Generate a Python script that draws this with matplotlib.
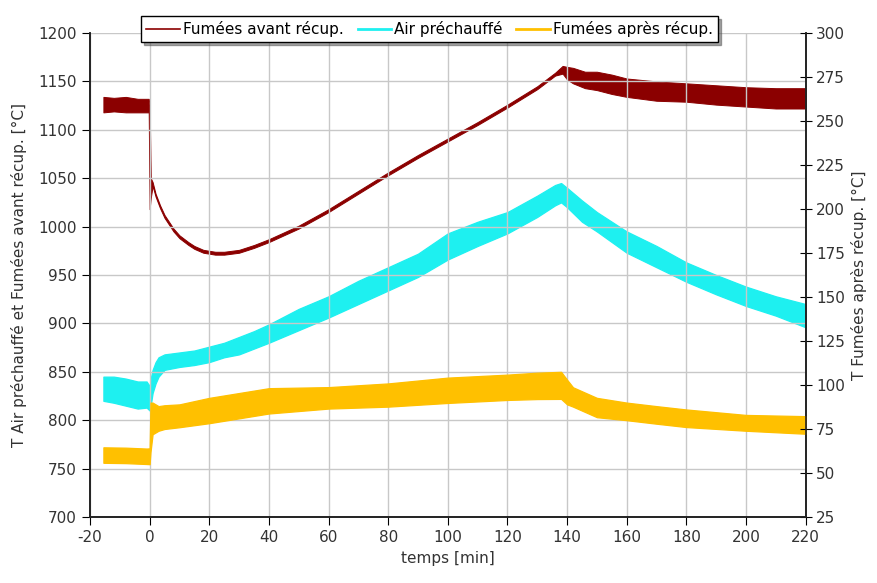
import matplotlib
matplotlib.use('Agg')
import numpy as np
import matplotlib.pyplot as plt
from matplotlib.lines import Line2D

plt.rcParams['axes.unicode_minus'] = False

# Fumées avant récup. (axe gauche) : temps, enveloppe basse / haute
t_av = [-15.5, -12, -8, -4, -0.3, 0, 0.4, 1, 2, 3.5, 5, 8, 10, 13, 15, 18, 20, 22, 25, 30, 35, 40,
        50, 60, 70, 80, 90, 100, 110, 120, 130, 136, 138.5, 140, 142, 146, 150, 155, 160, 170,
        180, 190, 200, 210, 220]
bas_av = [1118, 1119, 1118, 1118, 1118, 1018, 1030, 1042, 1031, 1019, 1009, 995, 988, 981, 977,
          973, 972, 971, 971, 973, 978, 984, 998, 1015, 1034, 1053, 1071, 1088, 1105, 1123, 1142,
          1156, 1158, 1152, 1148, 1143, 1141, 1137, 1134, 1130, 1129, 1126, 1124, 1122, 1122]
haut_av = [1134, 1133, 1134, 1132, 1132, 1125, 1050, 1046, 1034, 1022, 1012, 998, 991, 984, 980,
           976, 975, 974, 974, 976, 981, 987, 1001, 1018, 1037, 1056, 1074, 1091, 1108, 1126, 1145,
           1159, 1166, 1165, 1164, 1160, 1160, 1157, 1153, 1150, 1148, 1146, 1144, 1143, 1143]

# Air préchauffé (axe gauche)
t_air = [-15.5, -12, -8, -4, -1, 0, 0.5, 1, 2, 3, 5, 10, 15, 20, 25, 30, 35, 40, 50, 60, 70, 80,
         90, 100, 110, 120, 130, 136, 138, 140, 145, 150, 160, 170, 180, 190, 200, 210, 220]
bas_air = [820, 818, 815, 812, 813, 810, 818, 828, 838, 845, 852, 855, 857, 860, 865, 868, 874, 880,
           893, 906, 920, 934, 948, 966, 980, 993, 1010, 1022, 1025, 1020, 1005, 995, 973, 958, 943,
           930, 918, 908, 896]
haut_air = [845, 845, 843, 840, 840, 835, 845, 852, 860, 865, 868, 870, 872, 876, 880, 886, 892, 899,
            915, 928, 944, 958, 972, 993, 1005, 1015, 1032, 1043, 1045, 1040, 1027, 1015, 995, 980,
            963, 950, 938, 928, 920]

# Fumées après récup. (axe droit)
t_ap = [-15.5, -8, -1, 0, 0.3, 1, 3, 5, 10, 20, 40, 60, 80, 100, 120, 130, 138, 140, 142, 150, 160,
        170, 180, 200, 220]
bas_ap = [55.8, 55.6, 55.1, 55, 62, 72, 74, 75, 76, 78.3, 83.8, 86.6, 87.7, 89.8, 91.5, 92, 92.1, 89,
          87.7, 81.7, 80, 78, 76.1, 74, 72.3]
haut_ap = [64.6, 64.4, 63.9, 64, 90, 90, 88, 88.5, 89, 92.7, 98.2, 98.8, 100.9, 104.2, 105.9, 107,
           107.5, 103, 98.7, 92.7, 90, 88, 86.1, 83, 82.3]

c_av = '#8b0000'
c_air = '#1ef0f0'
c_ap = '#ffc000'
c_txt = '#333333'

fig = plt.figure(figsize=(8.77, 5.83), dpi=100)
ax = fig.add_axes([0.1026, 0.1132, 0.816, 0.8302])
ax2 = ax.twinx()

ax.fill_between(t_av, bas_av, haut_av, color=c_av, linewidth=0.7, edgecolor=c_av)
ax.fill_between(t_air, bas_air, haut_air, color=c_air, linewidth=0.9, edgecolor=c_air)
ax2.fill_between(t_ap, bas_ap, haut_ap, color=c_ap, linewidth=0.9, edgecolor=c_ap)

ax.set_xlim(-20, 220)
ax.set_ylim(700, 1200)
ax2.set_ylim(25, 300)
ax.set_xticks(np.arange(-20, 221, 20))
ax.set_yticks(np.arange(700, 1201, 50))
ax2.set_yticks(np.arange(25, 301, 25))

ax.grid(True, color='#c8c8c8', linewidth=1)
for a in (ax, ax2):
    a.spines['top'].set_visible(False)
    for s in ('left', 'right', 'bottom'):
        a.spines[s].set_linewidth(1.2)
        a.spines[s].set_color('#222222')

ax.tick_params(axis='y', direction='out', length=6, labelsize=11, labelcolor=c_txt)
ax.tick_params(axis='x', direction='out', length=6, labelsize=11, labelcolor=c_txt)
ax2.tick_params(axis='y', direction='inout', length=8, labelsize=11, labelcolor=c_txt)

ax.set_xlabel('temps [min]', fontsize=11, color=c_txt)
ax.set_ylabel('T Air préchauffé et Fumées avant récup. [°C]', fontsize=11, color=c_txt, labelpad=8)
ax2.set_ylabel('T Fumées après récup. [°C]', fontsize=11, color=c_txt)

handles = [Line2D([], [], color=c_av, lw=1.2),
           Line2D([], [], color=c_air, lw=2),
           Line2D([], [], color=c_ap, lw=2)]
labels = ['Fumées avant récup.', 'Air préchauffé', 'Fumées après récup.']
leg = ax2.legend(handles, labels, ncol=3, loc='center', bbox_to_anchor=(0.49, 0.95),
                 bbox_transform=fig.transFigure, fontsize=11, frameon=True, fancybox=False,
                 shadow=True, handlelength=2.2, handletextpad=0.2, columnspacing=0.9,
                 borderpad=0.35, borderaxespad=0)
leg.get_frame().set_edgecolor('black')
leg.get_frame().set_linewidth(1)
leg.get_frame().set_alpha(1)

plt.savefig('out.png', dpi=100)
